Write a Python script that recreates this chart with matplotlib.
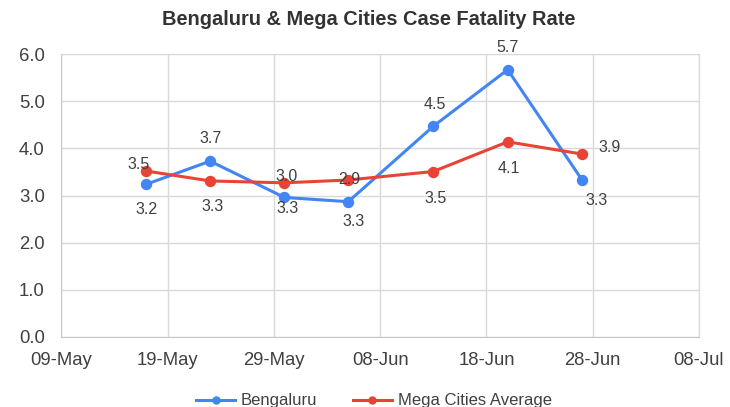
import pandas as pd
import matplotlib
matplotlib.use("Agg")
import matplotlib.pyplot as plt
import matplotlib.dates as mdates

plt.rcParams['font.family'] = ['Liberation Sans', 'DejaVu Sans']

# data
dates = ["2020-05-17", "2020-05-23", "2020-05-30", "2020-06-05",
         "2020-06-13", "2020-06-20", "2020-06-27"]
bengaluru = [3.24, 3.73, 2.96, 2.87, 4.47, 5.67, 3.33]
mega_avg = [3.52, 3.31, 3.27, 3.33, 3.51, 4.14, 3.88]
series_names = ["Bengaluru", "Mega Cities Average"]

x = pd.to_datetime(dates)

# label offsets in pixels (dx, dy)
off_beng = [(0, -25), (0, 23), (2, 21), (1, 22), (2, 22), (0, 22), (15, -20)]
off_mega = [(-8, 7), (2, -26), (3, -26), (5, -41), (2, -27), (1, -27), (28, 7)]

blue = "#4285F4"
red = "#EA4335"
txt = "#404040"

fig = plt.figure(figsize=(7.3, 4.07), dpi=100)
ax = fig.add_axes([0.084, 0.172, 0.8735, 0.695])

ax.plot(x, bengaluru, color=blue, lw=2.2, marker="o", ms=7.2, label=series_names[0], zorder=3)
ax.plot(x, mega_avg, color=red, lw=2.2, marker="o", ms=7.2, label=series_names[1], zorder=3)

for xi, v, o in zip(x, bengaluru, off_beng):
    ax.annotate(f"{v:.1f}", (xi, v), xytext=o, textcoords="offset pixels",
                ha="center", va="center", fontsize=11.5, color=txt, zorder=4)
for xi, v, o in zip(x, mega_avg, off_mega):
    ax.annotate(f"{v:.1f}", (xi, v), xytext=o, textcoords="offset pixels",
                ha="center", va="center", fontsize=11.5, color=txt, zorder=4)

ax.set_xlim(pd.Timestamp("2020-05-09"), pd.Timestamp("2020-07-08"))
ax.set_ylim(0, 6)
ax.set_yticks([0, 1, 2, 3, 4, 5, 6])
ax.yaxis.set_major_formatter(plt.FuncFormatter(lambda v, p: f"{v:.1f}"))
ax.set_xticks(pd.date_range("2020-05-09", "2020-07-08", freq="10D"))
ax.xaxis.set_major_formatter(mdates.DateFormatter("%d-%b"))

ax.grid(True, color="#d9d9d9", lw=1)
for s in ax.spines.values():
    s.set_color("#d9d9d9")
ax.spines["left"].set_color("#c8c8c8")
ax.spines["bottom"].set_color("#c8c8c8")
ax.tick_params(length=0, labelsize=13.3, labelcolor=txt, pad=12)
ax.tick_params(axis="x", pad=11)

fig.text(0.505, 0.953, "Bengaluru & Mega Cities Case Fatality Rate", ha="center", va="center",
         fontsize=14.4, fontweight="bold", color="#333333")

fig.legend(loc="center", bbox_to_anchor=(0.512, 0.015), ncol=2, frameon=False,
           fontsize=12, labelcolor=txt, handlelength=2.35, columnspacing=2.1,
           handletextpad=0.35, markerscale=0.7)

plt.savefig("out.png", dpi=100)
